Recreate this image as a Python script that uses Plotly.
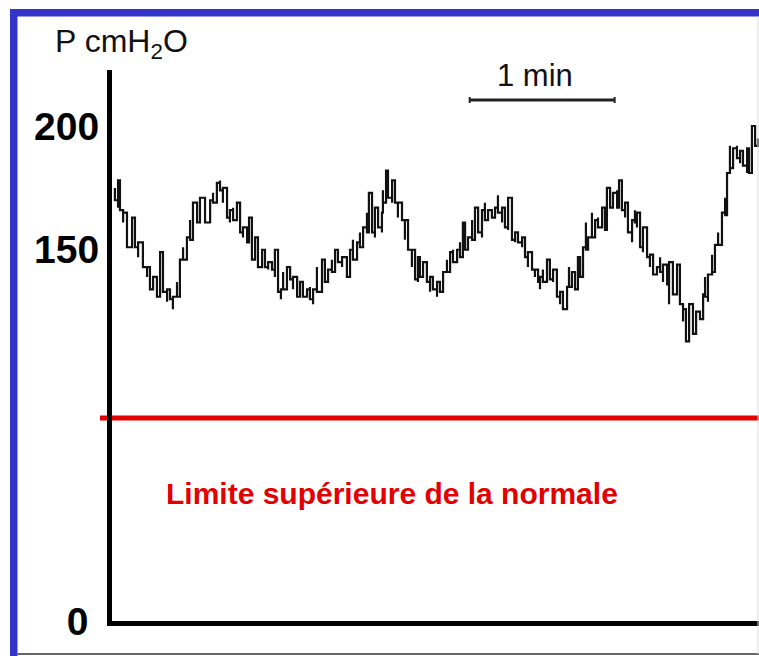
import plotly.graph_objects as go

# ---------------- data ----------------
# time in seconds, pressure in cmH2O; each sample has the upper and lower
# excursion of the noisy recording
trace_t = [1.2, 2.5, 3.3, 4.6, 6.2, 8.3, 9.5, 10.8, 12.8, 14.5, 15.7, 17.0, 18.6, 19.9, 21.1, 22.8, 24.0, 25.2, 26.9, 28.1,
           29.4, 31.0, 32.3, 33.5, 35.2, 36.4, 38.5, 40.6, 41.8, 43.4, 44.7, 45.9, 47.6, 48.8, 50.1, 51.7, 53.0, 54.2, 55.9, 56.7,
           57.9, 59.2, 60.4, 62.1, 63.3, 64.6, 66.2, 67.4, 68.7, 69.9, 70.8, 72.4, 73.7, 74.9, 76.6, 77.8, 79.0, 80.7, 81.9, 83.2,
           84.8, 86.9, 88.1, 89.4, 91.0, 92.3, 93.5, 95.2, 97.2, 98.5, 99.7, 101.4, 102.6, 103.9, 105.5, 106.3, 107.6, 108.8, 110.1, 111.7,
           112.1, 113.4, 114.2, 115.9, 117.1, 118.3, 120.0, 121.2, 122.5, 124.1, 125.4, 126.6, 127.4, 128.7, 130.3, 131.6, 132.8, 134.5, 135.7, 137.0,
           138.6, 139.9, 141.1, 142.8, 144.0, 145.2, 146.1, 147.3, 149.0, 150.2, 151.5, 153.1, 154.3, 155.6, 157.2, 158.5, 159.7, 161.4, 162.6, 163.9,
           165.5, 166.8, 168.0, 169.7, 170.9, 172.1, 173.8, 175.0, 176.3, 177.1, 178.3, 180.0, 181.2, 182.5, 184.1, 185.4, 186.6, 188.3, 189.1, 190.3,
           191.6, 192.8, 193.7, 194.9, 196.1, 197.0, 198.6, 199.9, 201.1, 202.8, 204.0, 204.8, 206.1, 207.3, 209.0, 209.8, 211.0, 212.3, 213.5, 215.2,
           216.4, 217.2, 218.5, 219.7, 221.4, 222.6, 223.9, 225.5, 226.8, 228.0, 229.7, 230.5, 232.1, 233.8, 235.0, 236.3, 237.5, 238.8, 240.4, 241.7,
           243.3, 244.6, 245.4, 246.6, 248.3, 249.5, 250.8, 252.4, 253.7, 254.5, 255.7, 257.0, 258.6, 259.9, 261.1, 262.8, 263.6, 264.8, 266.1, 267.3]
trace_hi = [175, 178, 173, 165, 162, 163, 159, 153, 146, 143, 141, 139, 139, 149, 143, 134, 133, 131, 137, 146,
            151, 155, 162, 169, 165, 171, 167, 170, 173, 177, 178, 175, 169, 166, 167, 169, 163, 159, 159, 163,
            154, 155, 151, 150, 149, 145, 145, 150, 142, 134, 141, 143, 142, 139, 135, 137, 135, 134, 135, 134,
            143, 146, 142, 142, 146, 150, 147, 147, 146, 150, 154, 153, 157, 159, 165, 173, 163, 167, 166, 165,
            174, 182, 178, 178, 175, 169, 169, 162, 154, 150, 143, 147, 147, 145, 142, 139, 139, 137, 137, 141,
            146, 149, 150, 150, 153, 161, 154, 155, 162, 167, 162, 166, 169, 166, 166, 167, 172, 167, 165, 171,
            158, 157, 157, 155, 154, 149, 145, 142, 141, 139, 142, 146, 145, 142, 137, 133, 130, 135, 143, 141,
            141, 147, 145, 151, 161, 155, 165, 162, 163, 167, 167, 175, 171, 173, 174, 178, 171, 169, 165, 162,
            166, 165, 161, 159, 155, 148, 145, 143, 147, 144, 141, 145, 143, 144, 143, 126, 124, 128, 121, 125,
            125, 132, 139, 140, 148, 152, 157, 165, 171, 181, 192, 191, 192, 190, 188, 191, 191, 200, 196, 195]
trace_lo = [170, 167, 166, 161, 151, 157, 151, 147, 143, 139, 134, 135, 131, 139, 133, 129, 130, 126, 131, 137,
            146, 151, 154, 159, 161, 163, 161, 165, 169, 173, 174, 169, 163, 161, 162, 162, 157, 155, 153, 153,
            146, 146, 143, 145, 143, 142, 142, 139, 133, 130, 134, 138, 138, 134, 131, 133, 131, 132, 130, 128,
            133, 139, 137, 139, 141, 143, 145, 143, 139, 143, 146, 146, 151, 154, 157, 161, 157, 155, 159, 157,
            169, 173, 171, 169, 169, 163, 162, 154, 150, 143, 138, 137, 139, 139, 137, 133, 134, 131, 133, 135,
            141, 142, 145, 146, 147, 151, 150, 151, 154, 157, 157, 155, 162, 163, 163, 163, 165, 161, 159, 158,
            154, 153, 153, 151, 147, 143, 142, 139, 137, 134, 137, 141, 138, 137, 131, 128, 126, 127, 135, 137,
            134, 139, 139, 142, 150, 150, 155, 157, 159, 163, 158, 166, 167, 169, 167, 169, 166, 163, 157, 153,
            161, 159, 151, 149, 147, 143, 140, 140, 141, 137, 136, 128, 132, 133, 128, 121, 113, 117, 116, 122,
            122, 124, 131, 129, 141, 148, 152, 157, 164, 171, 183, 184, 187, 185, 184, 181, 181, 194, 192, 192]

upper_normal_limit = 82          # cmH2O, red reference line
y_tick_values = [0, 150, 200]
y_tick_labels = ["0\u00a0", "150", "200"]
scale_bar_start = 148            # s
scale_bar_length = 60            # s  (1 min)
scale_bar_level = 210.5          # cmH2O

# ---------------- geometry ----------------
W, H = 759, 656
ML, MR, MT, MB = 112, 0, 70, 35
PW, PH = W - ML - MR, H - MT - MB
X_RANGE = [0, PW * 60 / 145]
Y_RANGE = [0, PH / 2.475]


def px(xp):
    return (xp - ML) / PW


def py(yp):
    return (H - MB - yp) / PH


# build the step-like noisy recording: each sample is a vertical stroke
xs, ys = [], []
for i, (t, hi, lo) in enumerate(zip(trace_t, trace_hi, trace_lo)):
    first, second = (hi, lo) if i % 2 == 0 else (lo, hi)
    xs += [t, t]
    ys += [first, second]

fig = go.Figure()
fig.add_trace(go.Scatter(x=xs, y=ys, mode="lines", line=dict(color="#111111", width=2.2, shape="hv"),
                         hoverinfo="skip", showlegend=False))

RED = "#E20000"
BLUE = "#3434C8"
shapes = [
    # red upper normal limit
    dict(type="line", xref="paper", yref="y", x0=px(100), x1=px(762), y0=upper_normal_limit, y1=upper_normal_limit,
         line=dict(color=RED, width=5), layer="below"),
    # scale bar 1 min
    dict(type="line", xref="x", yref="y", x0=scale_bar_start, x1=scale_bar_start + scale_bar_length,
         y0=scale_bar_level, y1=scale_bar_level, line=dict(color="#222222", width=3)),
    dict(type="line", xref="x", yref="y", x0=scale_bar_start, x1=scale_bar_start,
         y0=scale_bar_level - 1.2, y1=scale_bar_level + 1.2, line=dict(color="#222222", width=2)),
    dict(type="line", xref="x", yref="y", x0=scale_bar_start + scale_bar_length, x1=scale_bar_start + scale_bar_length,
         y0=scale_bar_level - 1.2, y1=scale_bar_level + 1.2, line=dict(color="#222222", width=2)),
    # slide frame
    dict(type="rect", xref="paper", yref="paper", x0=px(10), x1=px(760), y0=py(16.5), y1=py(9),
         line=dict(width=0), fillcolor=BLUE, layer="above"),
    dict(type="rect", xref="paper", yref="paper", x0=px(10), x1=px(17.5), y0=py(657), y1=py(9),
         line=dict(width=0), fillcolor=BLUE, layer="above"),
    dict(type="line", xref="paper", yref="paper", x0=px(17.5), x1=px(760), y0=py(654), y1=py(654),
         line=dict(color="#333333", width=1.5), layer="above"),
    dict(type="line", xref="paper", yref="paper", x0=px(758), x1=px(758), y0=py(654), y1=py(16.5),
         line=dict(color="#DDDDDD", width=1), layer="above"),
]

annotations = [
    dict(text="P cmH<sub>2</sub>O", xref="paper", yref="paper", x=px(53), y=py(44), xanchor="left", yanchor="middle",
         showarrow=False, font=dict(family="Liberation Sans, Arial", size=32, color="#111111")),
    dict(text="1 min", xref="paper", yref="paper", x=px(535), y=py(76), xanchor="center", yanchor="middle",
         showarrow=False, font=dict(family="Liberation Sans, Arial", size=31, color="#111111")),
    dict(text="Limite supérieure de la normale", xref="paper", yref="paper", x=px(391.5), y=py(493),
         xanchor="center", yanchor="middle", showarrow=False,
         font=dict(family="Liberation Sans, Arial", size=30, color=RED, weight=700)),
]

fig.update_layout(
    width=W, height=H, margin=dict(l=ML, r=MR, t=MT, b=MB, pad=0),
    paper_bgcolor="white", plot_bgcolor="white", showlegend=False,
    shapes=shapes, annotations=annotations,
    xaxis=dict(range=X_RANGE, showline=True, linewidth=5, linecolor="#000000", showgrid=False, zeroline=False,
               showticklabels=False, ticks=""),
    yaxis=dict(range=Y_RANGE, showline=True, linewidth=5, linecolor="#000000", showgrid=False, zeroline=False,
               tickmode="array", tickvals=y_tick_values, ticktext=y_tick_labels, ticks="",
               tickfont=dict(family="Liberation Sans, Arial", size=39, color="#000000", weight=700)),
)

fig.write_html("out.html")
